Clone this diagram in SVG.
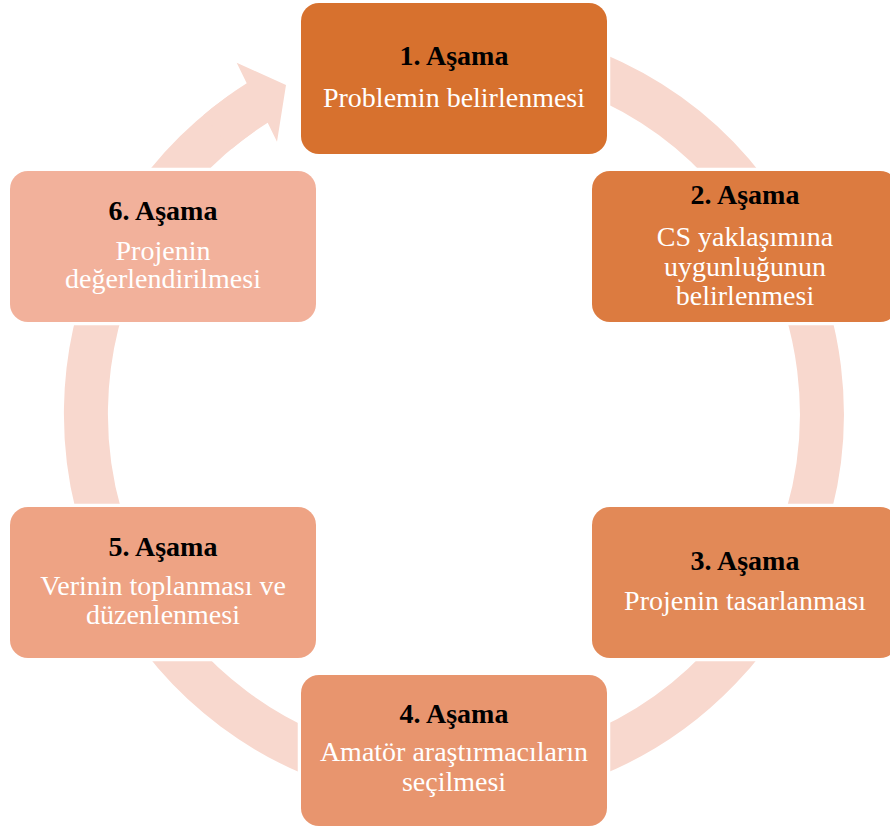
<svg xmlns="http://www.w3.org/2000/svg" width="890" height="830" viewBox="0 0 890 830">
<style>
.box{stroke:#fff;stroke-width:6.5;paint-order:stroke}
.t{font-family:"Liberation Serif","Times New Roman",serif;font-size:28px;text-anchor:middle}
.h{font-weight:bold;fill:#000}
.s{fill:#fff}
</style>
<rect width="890" height="830" fill="#fff"/>
<g id="connectors">
<path d="M454,46 A368,368 0 1 1 242.9,112.5" fill="none" stroke="#F8D8CE" stroke-width="44"/>
<path d="M203.3,115.3 A390,390 0 0 1 246.7,83.3 L236.7,62.7 L286,85 L277,141.7 L267.7,122.7 A346,346 0 0 0 231.6,149 Z" fill="#F8D8CE"/>
</g>
<g id="n1">
<rect class="box" x="301" y="3" width="306" height="151" rx="18" fill="#D7712E"/>
<text class="t h" x="454" y="65">1. Aşama</text>
<text class="t s" x="454" y="107">Problemin belirlenmesi</text>
</g>
<g id="n2">
<rect class="box" x="592" y="171" width="306" height="151" rx="18" fill="#DC7B40"/>
<text class="t h" x="745" y="204">2. Aşama</text>
<text class="t s" x="745" y="246">CS yaklaşımına</text>
<text class="t s" x="745" y="276">uygunluğunun</text>
<text class="t s" x="745" y="305">belirlenmesi</text>
</g>
<g id="n3">
<rect class="box" x="592" y="507" width="306" height="151" rx="18" fill="#E28957"/>
<text class="t h" x="745" y="570">3. Aşama</text>
<text class="t s" x="745" y="610">Projenin tasarlanması</text>
</g>
<g id="n4">
<rect class="box" x="301" y="675" width="306" height="151" rx="18" fill="#E8956E"/>
<text class="t h" x="454" y="723">4. Aşama</text>
<text class="t s" x="454" y="761">Amatör araştırmacıların</text>
<text class="t s" x="454" y="791">seçilmesi</text>
</g>
<g id="n5">
<rect class="box" x="10" y="507" width="306" height="151" rx="18" fill="#EEA384"/>
<text class="t h" x="163" y="556">5. Aşama</text>
<text class="t s" x="163" y="595">Verinin toplanması ve</text>
<text class="t s" x="163" y="624">düzenlenmesi</text>
</g>
<g id="n6">
<rect class="box" x="10" y="171" width="306" height="151" rx="18" fill="#F2B19B"/>
<text class="t h" x="163" y="220">6. Aşama</text>
<text class="t s" x="163" y="260">Projenin</text>
<text class="t s" x="163" y="288">değerlendirilmesi</text>
</g>
</svg>
